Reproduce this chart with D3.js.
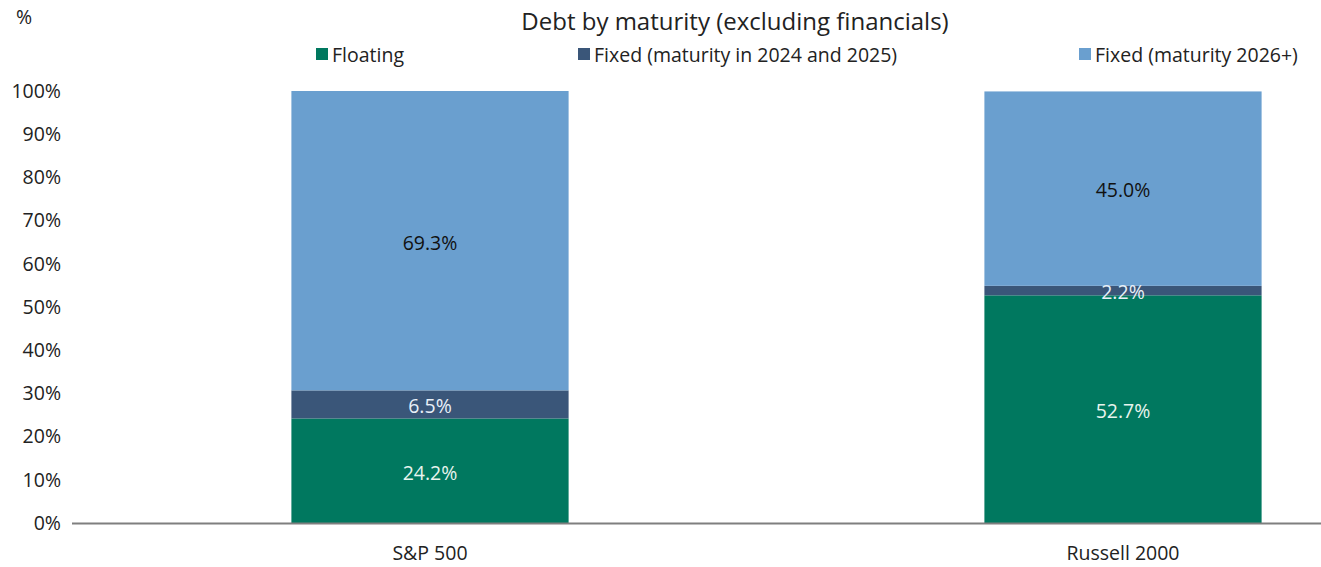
<!DOCTYPE html>
<html><head><meta charset="utf-8">
<script src="https://cdn.jsdelivr.net/npm/d3@7"></script>
<style>body{margin:0;background:#fff;}svg{display:block;font-family:"Open Sans","Noto Sans",sans-serif;}</style>
</head><body>
<svg id="c" width="1321" height="567"></svg>
<script>
const categories = ["S&P 500", "Russell 2000"];
const seriesNames = ["Floating", "Fixed (maturity in 2024 and 2025)", "Fixed (maturity 2026+)"];
const floating = [24.2, 52.7];
const fixed2425 = [6.5, 2.2];
const fixed2026 = [69.3, 45.0];
const yTicks = [0, 10, 20, 30, 40, 50, 60, 70, 80, 90, 100];
const colors = ["#00785f", "#3a5679", "#6a9fcf"];
const labelColors = ["#e8f4ee", "#e8f0f8", "#111111"];

const svg = d3.select("#c");
const plotTop = 91, plotBottom = 523;
const y = d3.scaleLinear().domain([0, 100]).range([plotBottom, plotTop]);
const x = d3.scaleBand().domain(categories).range([83.5, 1469.5]).paddingInner(0.6).paddingOuter(0.3);

const rows = categories.map((c, i) => ({cat: c, s0: floating[i], s1: fixed2425[i], s2: fixed2026[i]}));
const stack = d3.stack().keys(["s0", "s1", "s2"]);
const layers = stack(rows);

// y axis labels
const yAxis = d3.axisLeft(y).tickValues(yTicks).tickFormat(d => d + "%").tickSize(0).tickPadding(0);
const gy = svg.append("g").attr("transform", "translate(61,0)").call(yAxis);
gy.select(".domain").remove();
gy.selectAll("text").attr("font-size", 19.5).attr("fill", "#222").attr("font-family", "Open Sans, Noto Sans, sans-serif");

// bars
layers.forEach((layer, li) => {
  svg.append("g").selectAll("rect").data(layer).join("rect")
    .attr("x", d => x(d.data.cat))
    .attr("width", x.bandwidth())
    .attr("y", d => y(d[1]))
    .attr("height", d => y(d[0]) - y(d[1]))
    .attr("fill", colors[li]);
});
// labels
layers.forEach((layer, li) => {
  svg.append("g").selectAll("text").data(layer).join("text")
    .attr("x", d => x(d.data.cat) + x.bandwidth() / 2)
    .attr("y", d => (y(d[0]) + y(d[1])) / 2 + 2)
    .attr("dy", "0.35em")
    .attr("text-anchor", "middle")
    .attr("font-size", 19.5)
    .attr("fill", labelColors[li])
    .text(d => (d[1] - d[0]).toFixed(1) + "%");
});

// x axis
const xAxis = d3.axisBottom(x).tickSize(0).tickPadding(23);
const gx = svg.append("g").attr("transform", `translate(0,${plotBottom})`).call(xAxis);
gx.select(".domain").remove();
gx.selectAll("text").attr("font-size", 19.5).attr("fill", "#222").attr("font-family", "Open Sans, Noto Sans, sans-serif");
svg.append("line").attr("x1", 72).attr("x2", 1321).attr("y1", plotBottom + 0.5).attr("y2", plotBottom + 0.5)
  .attr("stroke", "#7f7f7f").attr("stroke-width", 2);

// title and unit
svg.append("text").attr("x", 735).attr("y", 30).attr("text-anchor", "middle").attr("font-size", 24).attr("fill", "#222")
  .text("Debt by maturity (excluding financials)");
svg.append("text").attr("x", 16).attr("y", 24).attr("font-size", 19.5).attr("fill", "#222").text("%");

// legend
const legX = [316, 578, 1079];
seriesNames.forEach((n, i) => {
  svg.append("rect").attr("x", legX[i]).attr("y", 48).attr("width", 12).attr("height", 12).attr("fill", colors[i]);
  svg.append("text").attr("x", legX[i] + 16).attr("y", 62).attr("font-size", 19.5).attr("fill", "#222").text(n);
});
</script>
</body></html>
